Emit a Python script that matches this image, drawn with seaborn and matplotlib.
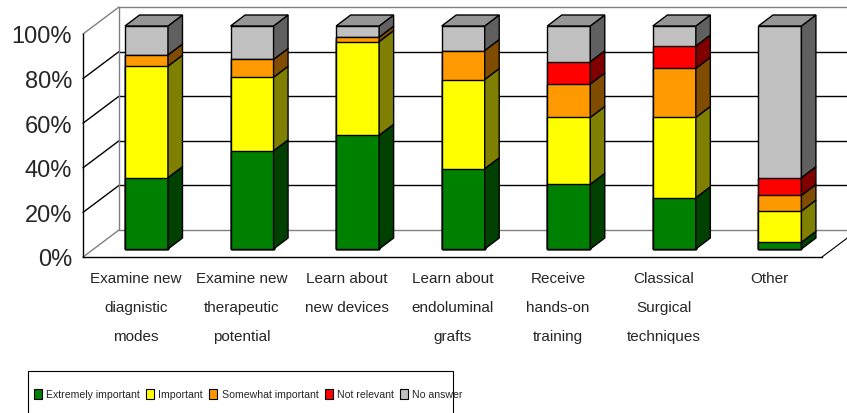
import matplotlib
matplotlib.use("Agg")
import matplotlib.pyplot as plt
import matplotlib.transforms as mtransforms
import pandas as pd
import seaborn as sns
from matplotlib.patches import Patch, Polygon, Rectangle

categories = [
    "Examine new\ndiagnistic\nmodes",
    "Examine new\ntherapeutic\npotential",
    "Learn about\nnew devices",
    "Learn about\nendoluminal\ngrafts",
    "Receive\nhands-on\ntraining",
    "Classical\nSurgical\ntechniques",
    "Other",
]
series_names = ["Extremely important", "Important", "Somewhat important",
                "Not relevant", "No answer"]
extremely = [32, 44, 51, 36, 29, 23, 3]
important = [50, 33, 42, 40, 30, 36, 14]
somewhat = [5, 8, 2, 13, 15, 22, 7]
not_relevant = [0, 0, 0, 0, 10, 10, 8]
no_answer = [13, 15, 5, 11, 16, 9, 68]
y_ticks = [0, 20, 40, 60, 80, 100]

front_colors = ["#008000", "#FFFF00", "#FF9900", "#FF0000", "#C0C0C0"]
side_colors = ["#004000", "#808000", "#804C00", "#800000", "#606060"]
top_color = "#969696"

sns.set_theme(style="white")
plt.rcParams["font.family"] = ["Liberation Sans", "DejaVu Sans"]

W, H = 847, 414
fig = plt.figure(figsize=(W / 100, H / 100), dpi=100)
ax = fig.add_axes([83 / W, 1 - 258 / H, 739 / W, 223 / H])

df = pd.DataFrame({
    "category": categories,
    series_names[0]: extremely,
    series_names[1]: important,
    series_names[2]: somewhat,
    series_names[3]: not_relevant,
    series_names[4]: no_answer,
})
cum = df[series_names].cumsum(axis=1)

# pixel -> data helpers for the fake 3D depth
px_cat = 739 / 7
px_pct = 223 / 100
fx, fy = 10.7 / px_cat, 8 / px_pct      # bar front plane shift
bx, by = 14.5 / px_cat, 11 / px_pct     # bar depth
wx, wy = 36 / px_cat, 27 / px_pct       # wall depth

# stacked front faces: tallest cumulative first
bar_width = 43 / px_cat
for k in range(len(series_names) - 1, -1, -1):
    sns.barplot(x=df["category"], y=cum[series_names[k]], color=front_colors[k],
                saturation=1, width=bar_width, edgecolor="black", linewidth=1,
                ax=ax, zorder=2)

shift = mtransforms.Affine2D().translate(fx, fy) + ax.transData
for p in ax.patches:
    p.set_transform(shift)
    p.set_clip_on(False)

# side and top faces from the bar geometry
green_bars = ax.patches[-len(categories):]
for i, p in enumerate(green_bars):
    x0 = p.get_x() + fx
    x1 = p.get_x() + p.get_width() + fx
    bottom = 0
    for k, name in enumerate(series_names):
        h = df[name].iloc[i]
        if h <= 0:
            continue
        y0, y1 = bottom + fy, bottom + h + fy
        ax.add_patch(Polygon([(x1, y0), (x1 + bx, y0 + by), (x1 + bx, y1 + by), (x1, y1)],
                             closed=True, facecolor=side_colors[k], edgecolor="black",
                             linewidth=1, zorder=2, clip_on=False))
        bottom += h
    yt = bottom + fy
    ax.add_patch(Polygon([(x0, yt), (x0 + bx, yt + by), (x1 + bx, yt + by), (x1, yt)],
                         closed=True, facecolor=top_color, edgecolor="black",
                         linewidth=1, zorder=2, clip_on=False))

ax.set_xlim(-0.5, len(categories) - 0.5)
ax.set_ylim(0, 100)

# walls
xl, xr = -0.5, len(categories) - 0.5
for v in y_ticks:
    c = "#808080" if v in (0, 100) else "black"
    ax.plot([xl, xl + wx], [v, v + wy], color=c, lw=1, clip_on=False, zorder=0.5)
    ax.plot([xl + wx, xr + wx + 1], [v + wy, v + wy], color=c, lw=1, clip_on=False,
            zorder=0.5)
ax.plot([xl + wx, xl + wx], [wy, 100 + wy], color="#808080", lw=1, clip_on=False, zorder=0.5)
ax.plot([xr, xr + wx], [0, wy], color="black", lw=0.8, clip_on=False, zorder=0.5)

for s in ["top", "right"]:
    ax.spines[s].set_visible(False)
for s in ["left", "bottom"]:
    ax.spines[s].set_color("black")
    ax.spines[s].set_linewidth(1)

ax.set_yticks(y_ticks)
ax.set_yticklabels([f"{v}%" for v in y_ticks], fontsize=17)
ax.tick_params(axis="y", length=4, width=1, color="black", direction="out", pad=4)
ax.set_xticks(range(len(categories)))
ax.set_xticklabels(categories, fontsize=11, linespacing=2.35)
ax.set_xticks([i - 0.5 for i in range(len(categories) + 1)], minor=True)
ax.tick_params(axis="x", which="major", length=0, pad=10)
ax.tick_params(axis="x", which="minor", length=4, width=1, color="black", direction="out")
ax.set_xlabel("")
ax.set_ylabel("")
ax.grid(False)

# legend box (runs off the bottom edge like the original)
fig.add_artist(Rectangle((28 / W, -0.02), 425 / W, (H - 372) / H + 0.02,
                         transform=fig.transFigure, facecolor="none",
                         edgecolor="black", linewidth=0.8))
handles = [Patch(facecolor=c, edgecolor="black", linewidth=0.8, label=n)
           for c, n in zip(front_colors, series_names)]
fig.legend(handles=handles, loc="center left", bbox_to_anchor=(32 / W, 1 - 395 / H),
           ncol=5, frameon=False, fontsize=7.6, handlelength=0.75, handleheight=1.1,
           handletextpad=0.4, columnspacing=0.6, borderpad=0.2, borderaxespad=0)

fig.savefig("out.png", dpi=100)
